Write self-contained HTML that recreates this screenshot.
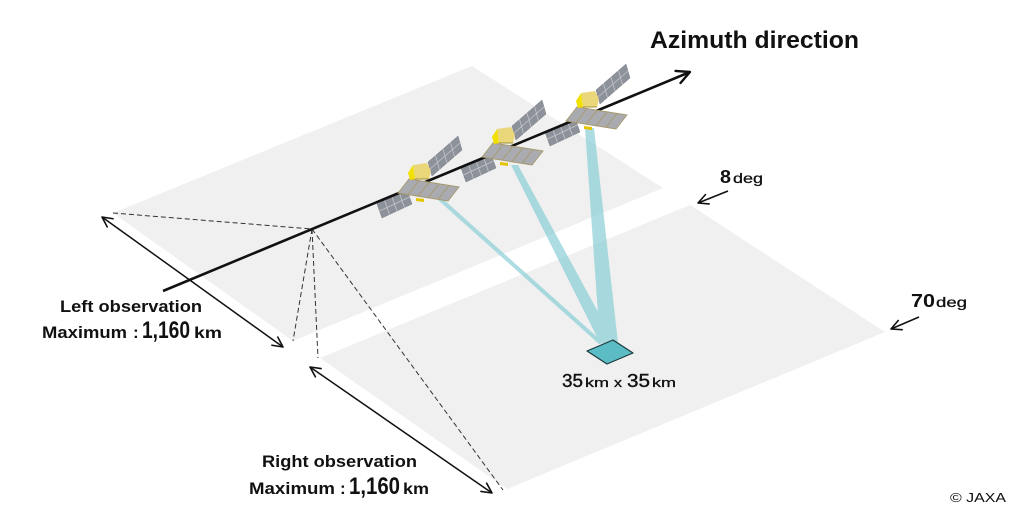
<!DOCTYPE html>
<html>
<head>
<meta charset="utf-8">
<style>
  html,body{margin:0;padding:0;background:#fff;}
  svg{display:block;}
  text{font-family:"Liberation Sans",sans-serif;fill:#111;}
</style>
</head>
<body>
<svg width="1024" height="518" viewBox="0 0 1024 518" xmlns="http://www.w3.org/2000/svg">
  <defs>
    <marker id="ah" viewBox="0 0 12 12" refX="11" refY="6" markerWidth="12" markerHeight="12" orient="auto-start-reverse" markerUnits="userSpaceOnUse">
      <path d="M1,1 L11,6 L1,11" fill="none" stroke="#111" stroke-width="1.6" stroke-linecap="round" stroke-linejoin="round"/>
    </marker>
    <marker id="ahBig" viewBox="0 0 16 16" refX="14.5" refY="8" markerWidth="16" markerHeight="16" orient="auto" markerUnits="userSpaceOnUse">
      <path d="M1.5,1.5 L14.5,8 L1.5,14.5" fill="none" stroke="#111" stroke-width="2.4" stroke-linecap="round" stroke-linejoin="round"/>
    </marker>

    <g id="panelsBack">
      <!-- upper panel -->
      <polygon points="9,-11 39,-37 43,-23 13,3" fill="#8d9199" stroke="#7d8189" stroke-width="0.5"/>
      <g stroke="#c4c7cc" stroke-width="0.8">
        <line x1="16.5" y1="-17.5" x2="20.5" y2="-3.5"/>
        <line x1="24" y1="-24" x2="28" y2="-10"/>
        <line x1="31.5" y1="-30.5" x2="35.5" y2="-16.5"/>
        <line x1="11" y1="-4" x2="41" y2="-30"/>
      </g>
      <!-- lower-left panel -->
      <polygon points="-12,17 -42,31 -37,45 -7,31" fill="#8d9199" stroke="#7d8189" stroke-width="0.5"/>
      <g stroke="#c4c7cc" stroke-width="0.8">
        <line x1="-19.5" y1="20.5" x2="-14.5" y2="34.5"/>
        <line x1="-27" y1="24" x2="-22" y2="38"/>
        <line x1="-34.5" y1="27.5" x2="-29.5" y2="41.5"/>
        <line x1="-9.5" y1="24" x2="-39.5" y2="38"/>
      </g>
    </g>

    <g id="satFront">
      <!-- bottom tab -->
      <polygon points="-3,25 5,26 5,29 -3,28" fill="#e6c400"/>
      <!-- main panel -->
      <polygon points="-10,6 40,14 29,28 -21,20" fill="#a9abb1" stroke="#a8996a" stroke-width="0.9"/>
      <g stroke="#a8996a" stroke-width="0.9">
        <line x1="0" y1="7.6" x2="-11" y2="21.6"/>
        <line x1="10" y1="9.2" x2="-1" y2="23.2"/>
        <line x1="20" y1="10.8" x2="9" y2="24.8"/>
        <line x1="30" y1="12.4" x2="19" y2="26.4"/>
      </g>
      <!-- body -->
      <polygon points="-6,-8 8,-10 12,-2 10,6 -4,6" fill="#ead77a"/>
      <polygon points="-11,0 -6,-8 -4,6 -9,7" fill="#f2e000"/>
      <line x1="-4" y1="6" x2="10" y2="6" stroke="#8a7a20" stroke-width="0.8"/>
    </g>
  </defs>

  <!-- planes -->
  <polygon points="113,213 472,66 663,188 293,341" fill="#eff0ef"/>
  <polygon points="320,358 690,205 885,332 507,489" fill="#eff0ef"/>

  <!-- beams -->
  <g fill="#82ccd4" opacity="0.65">
    <polygon points="438,200 443,199 604,343 599,344"/>
    <polygon points="511,165 518,165 615,343 600,343"/>
    <polygon points="585,128 594,128 618,343 600,343"/>
  </g>

  <!-- target square -->
  <polygon points="587,351 613,340 633,353 607,364" fill="#5bbcc6" stroke="#1d3a3c" stroke-width="1.2" stroke-linejoin="round"/>

  <!-- dashed lines -->
  <g stroke="#333" stroke-width="1" stroke-dasharray="5,3" fill="none">
    <line x1="113" y1="213" x2="312" y2="229"/>
    <line x1="312" y1="229" x2="293" y2="341"/>
    <line x1="312" y1="229" x2="318" y2="358"/>
    <line x1="312" y1="229" x2="503" y2="490"/>
  </g>

  <!-- dimension arrows -->
  <g stroke="#111" stroke-width="1.5" fill="none">
    <line x1="102" y1="217" x2="283" y2="347" marker-start="url(#ah)" marker-end="url(#ah)"/>
    <line x1="310" y1="367" x2="492" y2="493" marker-start="url(#ah)" marker-end="url(#ah)"/>
    <line x1="728" y1="191" x2="698" y2="203" marker-end="url(#ah)"/>
    <line x1="919" y1="317" x2="891" y2="329" marker-end="url(#ah)"/>
  </g>

  <!-- satellites: back panels -->
  <use href="#panelsBack" transform="translate(419,173)"/>
  <use href="#panelsBack" transform="translate(503,137)"/>
  <use href="#panelsBack" transform="translate(587,101)"/>

  <!-- orbit line -->
  <line x1="163" y1="291" x2="690" y2="72" stroke="#111" stroke-width="2.6" marker-end="url(#ahBig)"/>

  <!-- satellites: front -->
  <use href="#satFront" transform="translate(419,173)"/>
  <use href="#satFront" transform="translate(503,137)"/>
  <use href="#satFront" transform="translate(587,101)"/>

  <!-- texts -->
  <text x="650" y="48" font-size="24" font-weight="bold" textLength="209" lengthAdjust="spacingAndGlyphs">Azimuth direction</text>

  <text x="720" y="183" font-size="18" font-weight="bold" textLength="11" lengthAdjust="spacingAndGlyphs">8</text>
  <text x="733" y="183" font-size="14" textLength="30" lengthAdjust="spacingAndGlyphs" stroke="#111" stroke-width="0.3">deg</text>

  <text x="911" y="307" font-size="18" font-weight="bold" textLength="24" lengthAdjust="spacingAndGlyphs">70</text>
  <text x="936" y="307" font-size="14" textLength="31" lengthAdjust="spacingAndGlyphs" stroke="#111" stroke-width="0.3">deg</text>

  <text x="60" y="312" font-size="17" font-weight="bold" textLength="142" lengthAdjust="spacingAndGlyphs">Left observation</text>
  <text x="42" y="338" font-size="17" font-weight="bold" textLength="85" lengthAdjust="spacingAndGlyphs">Maximum</text>
  <text x="133" y="338" font-size="17" font-weight="bold">:</text>
  <text x="142" y="338" font-size="24" font-weight="bold" textLength="48" lengthAdjust="spacingAndGlyphs">1,160</text>
  <text x="194" y="338" font-size="16" font-weight="bold" textLength="28" lengthAdjust="spacingAndGlyphs">km</text>

  <text x="262" y="467" font-size="17" font-weight="bold" textLength="155" lengthAdjust="spacingAndGlyphs">Right observation</text>
  <text x="249" y="494" font-size="17" font-weight="bold" textLength="86" lengthAdjust="spacingAndGlyphs">Maximum</text>
  <text x="340" y="494" font-size="17" font-weight="bold">:</text>
  <text x="349" y="494" font-size="24" font-weight="bold" textLength="51" lengthAdjust="spacingAndGlyphs">1,160</text>
  <text x="403" y="494" font-size="16" font-weight="bold" textLength="26" lengthAdjust="spacingAndGlyphs">km</text>

  <text x="562" y="387" font-size="18" textLength="21" lengthAdjust="spacingAndGlyphs" stroke="#111" stroke-width="0.4">35</text>
  <text x="585" y="387" font-size="13" textLength="24" lengthAdjust="spacingAndGlyphs" stroke="#111" stroke-width="0.3">km</text>
  <text x="614" y="387" font-size="13" textLength="8" lengthAdjust="spacingAndGlyphs" stroke="#111" stroke-width="0.3">x</text>
  <text x="627" y="387" font-size="18" textLength="23" lengthAdjust="spacingAndGlyphs" stroke="#111" stroke-width="0.4">35</text>
  <text x="652" y="387" font-size="13" textLength="24" lengthAdjust="spacingAndGlyphs" stroke="#111" stroke-width="0.3">km</text>

  <text x="950" y="502" font-size="13" textLength="56" lengthAdjust="spacingAndGlyphs">© JAXA</text>
</svg>
</body>
</html>
